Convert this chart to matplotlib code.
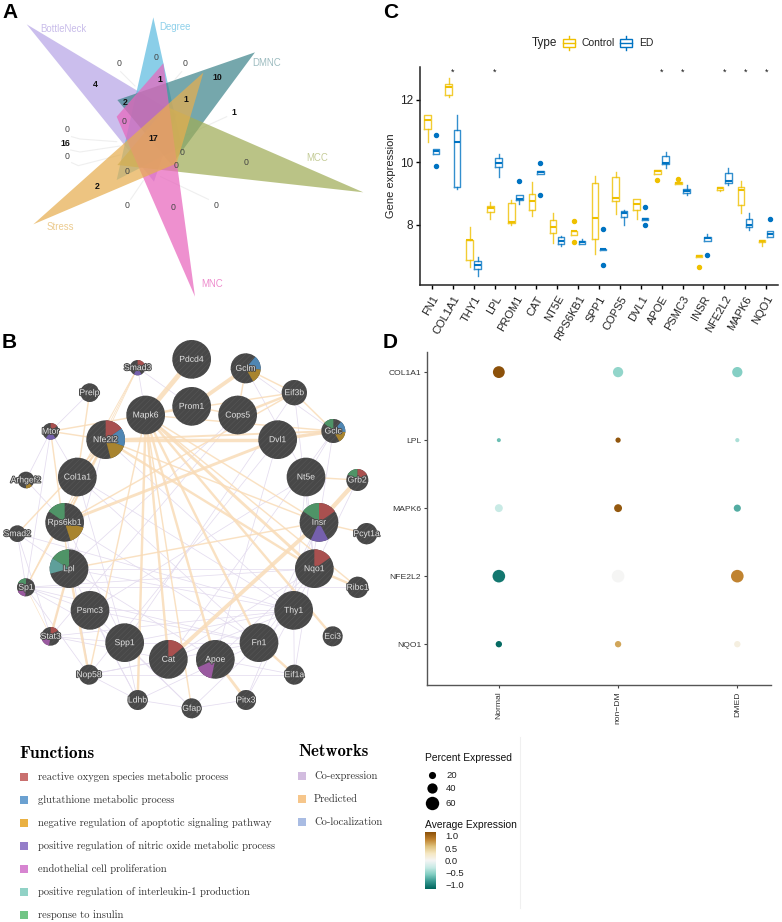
import matplotlib
matplotlib.use("Agg")
import numpy as np
import matplotlib.pyplot as plt
import matplotlib.patheffects as pe
from matplotlib.patches import Polygon, Circle, Wedge, Rectangle
from matplotlib.colors import LinearSegmentedColormap, Normalize

plt.rcParams['font.family'] = ['Liberation Sans', 'DejaVu Sans']
plt.rcParams['hatch.linewidth'] = 0.4

# ---- panel A, venn petals (traced at 3x from the figure), in drawing order
venn_names = ['BottleNeck', 'Degree', 'DMNC', 'MCC', 'MNC', 'Stress']
venn_polys = [
    [(80, 73), (530, 343), (462, 545)],
    [(460, 52), (350, 540), (545, 440)],
    [(765, 157), (352, 300), (515, 495)],
    [(1090, 577), (500, 320), (352, 495)],
    [(585, 890), (350, 350), (490, 190)],
    [(100, 673), (610, 218), (530, 490)],
]
venn_colors = ['#b7a6e6', '#5dbbe0', '#40858c', '#a0ad58', '#e866bd', '#e6ae50']
venn_label_colors = ['#c9bdea', '#8ed0ea', '#9dbcc0', '#c5cc98', '#ee8ccd', '#eccb8f']
venn_label_pos = [(190, 88), (525, 80), (800, 190), (952, 475), (637, 851), (180, 680)]
venn_counts = ['0', '0', '1', '0', '10', '4', '2', '1', '0', '1', '0', '16', '17', '0', '0', '0', '0', '0', '2', '0', '0', '0']
venn_count_x = [357, 468, 480, 555, 652, 287, 377, 558, 372, 701, 200, 196, 460, 200, 545, 527, 738, 382, 291, 382, 519, 647]
venn_count_y = [192, 172, 237, 192, 233, 253, 307, 300, 365, 338, 389, 430, 415, 470, 457, 498, 487, 514, 559, 615, 623, 615]
venn_leaders = [
    [(362, 215), (405, 258)], [(545, 215), (525, 238)], [(680, 350), (560, 405)],
    [(215, 410), (240, 417), (350, 425)], [(212, 450), (240, 456), (360, 438)],
    [(215, 488), (235, 497), (360, 465)], [(625, 598), (482, 530)], [(392, 598), (430, 542)],
]

# ---- panel B, network
node_names = ['Pdcd4', 'Gclm', 'Smad3', 'Prelp', 'Eif3b', 'Prom1', 'Cops5', 'Mapk6', 'Mtor', 'Nfe2l2',
              'Dvl1', 'Gclc', 'Col1a1', 'Nt5e', 'Arhgef2', 'Grb2', 'Rps6kb1', 'Insr', 'Smad2', 'Pcyt1a',
              'Lpl', 'Nqo1', 'Sp1', 'Ribc1', 'Psmc3', 'Thy1', 'Stat3', 'Eci3', 'Spp1', 'Fn1',
              'Cat', 'Apoe', 'Nop58', 'Eif1a', 'Ldhb', 'Pitx3', 'Gfap']
node_x = [575, 737, 413, 269, 883, 575, 713, 437, 152, 317, 833, 1000, 232, 918, 78, 1072, 194, 957, 52, 1100,
          207, 943, 78, 1073, 270, 881, 152, 998, 374, 777, 505, 646, 267, 883, 413, 738, 575]
node_y = [88, 115, 113, 188, 188, 229, 255, 255, 304, 329, 329, 303, 441, 441, 450, 450, 577, 577, 611, 611,
          716, 716, 772, 772, 841, 841, 919, 919, 938, 938, 988, 988, 1034, 1034, 1110, 1110, 1135]
node_r = [58, 45, 23, 28, 38, 58, 58, 58, 25, 58, 58, 36, 58, 58, 25, 33, 58, 58, 25, 32,
          58, 58, 27, 32, 58, 58, 28, 30, 58, 58, 58, 58, 30, 30, 30, 30, 30]

predicted_edges = [
    ('Pdcd4', 'Mapk6', 5), ('Gclm', 'Prom1', 4), ('Gclm', 'Cops5', 1.5), ('Eif3b', 'Cops5', 2.5), ('Eif3b', 'Mapk6', 1.5),
    ('Nfe2l2', 'Dvl1', 3.5), ('Dvl1', 'Gclc', 3.5), ('Nfe2l2', 'Gclc', 2), ('Rps6kb1', 'Dvl1', 3), ('Rps6kb1', 'Eif3b', 1.5),
    ('Lpl', 'Insr', 1.5), ('Mapk6', 'Nqo1', 3), ('Nfe2l2', 'Nqo1', 2.5), ('Nfe2l2', 'Insr', 1.5), ('Mapk6', 'Insr', 1.5),
    ('Mapk6', 'Ribc1', 1.5), ('Mapk6', 'Eci3', 2.5), ('Mapk6', 'Fn1', 2.5), ('Mapk6', 'Apoe', 2.5), ('Mapk6', 'Cat', 2.5),
    ('Mapk6', 'Gfap', 1.5), ('Mapk6', 'Ldhb', 2.5), ('Mapk6', 'Nop58', 1.5), ('Nfe2l2', 'Sp1', 1.5), ('Nfe2l2', 'Smad2', 1.5),
    ('Nfe2l2', 'Col1a1', 2.5), ('Mtor', 'Nfe2l2', 1.5), ('Mtor', 'Mapk6', 1.5), ('Mtor', 'Lpl', 1.5), ('Lpl', 'Nop58', 2.5),
    ('Prelp', 'Col1a1', 1.5), ('Smad3', 'Col1a1', 1), ('Smad3', 'Rps6kb1', 0.8), ('Insr', 'Grb2', 4.5), ('Cat', 'Insr', 4),
    ('Nt5e', 'Grb2', 1.5), ('Nqo1', 'Ribc1', 2.5), ('Insr', 'Pcyt1a', 1.5), ('Apoe', 'Pitx3', 3), ('Fn1', 'Eif1a', 2.5),
    ('Stat3', 'Lpl', 2.5), ('Gclm', 'Eif3b', 1.5), ('Gclc', 'Eif3b', 1.5), ('Gclc', 'Mapk6', 1.5), ('Rps6kb1', 'Nfe2l2', 2),
    ('Prom1', 'Cops5', 1.5), ('Mapk6', 'Prom1', 2), ('Sp1', 'Smad3', 0.8), ('Sp1', 'Stat3', 0.6),
]
coexp_edges = [
    ('Smad3', 'Mapk6'), ('Smad3', 'Prom1'), ('Prelp', 'Mtor'), ('Gclm', 'Nt5e'), ('Gclm', 'Gclc'), ('Eif3b', 'Nqo1'),
    ('Eif3b', 'Spp1'), ('Gclc', 'Insr'), ('Gclc', 'Nt5e'), ('Dvl1', 'Nop58'), ('Cops5', 'Stat3'), ('Cops5', 'Lpl'),
    ('Gclc', 'Cat'), ('Nt5e', 'Thy1'), ('Nt5e', 'Psmc3'), ('Grb2', 'Nqo1'), ('Mtor', 'Col1a1'), ('Mtor', 'Arhgef2'),
    ('Mtor', 'Sp1'), ('Arhgef2', 'Rps6kb1'), ('Smad2', 'Sp1'), ('Smad2', 'Thy1'), ('Smad2', 'Lpl'), ('Smad2', 'Stat3'),
    ('Rps6kb1', 'Spp1'), ('Rps6kb1', 'Fn1'), ('Rps6kb1', 'Nop58'), ('Col1a1', 'Spp1'), ('Col1a1', 'Fn1'), ('Col1a1', 'Thy1'),
    ('Lpl', 'Thy1'), ('Lpl', 'Nqo1'), ('Lpl', 'Apoe'), ('Lpl', 'Ldhb'), ('Sp1', 'Nqo1'), ('Sp1', 'Fn1'), ('Sp1', 'Psmc3'),
    ('Sp1', 'Ribc1'), ('Sp1', 'Spp1'), ('Sp1', 'Nop58'), ('Psmc3', 'Thy1'), ('Psmc3', 'Fn1'), ('Psmc3', 'Ldhb'), ('Psmc3', 'Gfap'),
    ('Stat3', 'Cat'), ('Stat3', 'Thy1'), ('Stat3', 'Spp1'), ('Spp1', 'Thy1'), ('Spp1', 'Fn1'), ('Spp1', 'Ldhb'), ('Spp1', 'Gfap'),
    ('Nop58', 'Eif1a'), ('Nop58', 'Fn1'), ('Nop58', 'Cat'), ('Nop58', 'Ldhb'), ('Ldhb', 'Gfap'), ('Ldhb', 'Fn1'), ('Gfap', 'Pitx3'),
    ('Gfap', 'Thy1'), ('Pitx3', 'Thy1'), ('Pitx3', 'Insr'), ('Cat', 'Nqo1'), ('Cat', 'Thy1'), ('Apoe', 'Nqo1'), ('Apoe', 'Dvl1'),
    ('Eif1a', 'Thy1'), ('Eif1a', 'Apoe'), ('Fn1', 'Nqo1'), ('Fn1', 'Insr'), ('Thy1', 'Nqo1'), ('Nqo1', 'Nt5e'), ('Insr', 'Eif1a'),
    ('Dvl1', 'Gclc'), ('Nfe2l2', 'Thy1'), ('Nfe2l2', 'Stat3'),
]

RED, BLUE, GOLD, PURPLE, PINK, TEAL, GREEN = '#a9504f', '#4f86b3', '#a8842f', '#7560ad', '#9a5aa0', '#5f9f9a', '#4f9467'
pie_slices = [
    ('Nfe2l2', RED, 35, 90), ('Nfe2l2', BLUE, -20, 35), ('Nfe2l2', GOLD, -75, -20),
    ('Insr', RED, 35, 90), ('Insr', GREEN, 90, 145), ('Insr', PURPLE, -115, -62),
    ('Rps6kb1', GREEN, 90, 145), ('Rps6kb1', GOLD, -72, -15),
    ('Lpl', GREEN, 90, 148), ('Lpl', TEAL, 148, 195),
    ('Nqo1', RED, 35, 90), ('Cat', RED, 40, 90), ('Apoe', PINK, 205, 258),
    ('Gclm', BLUE, -5, 50), ('Gclm', GOLD, -60, -5),
    ('Gclc', GREEN, 90, 140), ('Gclc', BLUE, -5, 50), ('Gclc', GOLD, -60, -5),
    ('Grb2', RED, 30, 90), ('Grb2', GREEN, 90, 150),
    ('Mtor', RED, 40, 90), ('Mtor', PURPLE, 235, 305),
    ('Smad3', RED, 30, 90), ('Smad3', PURPLE, 240, 300),
    ('Sp1', GREEN, 90, 150), ('Sp1', PINK, 205, 265),
    ('Stat3', RED, 40, 90), ('Stat3', PINK, 200, 260), ('Arhgef2', GOLD, -90, -45),
]

# legends under B
function_names = ['reactive oxygen species metabolic process', 'glutathione metabolic process',
                  'negative regulation of apoptotic signaling pathway',
                  'positive regulation of nitric oxide metabolic process', 'endothelial cell proliferation',
                  'positive regulation of interleukin-1 production', 'response to insulin']
function_colors = ['#c4605f', '#5b97cc', '#e8a92e', '#8a70c4', '#d378cc', '#85cdc0', '#62bf78']
network_names = ['Co-expression', 'Predicted', 'Co-localization']
network_colors = ['#cdb5dc', '#f6c07f', '#a0b5e0']

# ---- panel C
genes = ['FN1', 'COL1A1', 'THY1', 'LPL', 'PROM1', 'CAT', 'NT5E', 'RPS6KB1', 'SPP1', 'COPS5', 'DVL1',
         'APOE', 'PSMC3', 'INSR', 'NFE2L2', 'MAPK6', 'NQO1']
ctrl_low = [10.65, 12.08, 6.66, 8.18, 7.99, 8.28, 7.40, 7.67, 7.05, 8.34, 8.19, 9.63, 9.31, 6.98, 9.09, 8.36, 7.32]
ctrl_q1 = [11.05, 12.14, 6.86, 8.40, 8.06, 8.47, 7.74, 7.67, 7.53, 8.74, 8.46, 9.63, 9.31, 6.98, 9.11, 8.62, 7.43]
ctrl_med = [11.33, 12.40, 7.51, 8.52, 8.10, 8.76, 7.94, 7.80, 8.21, 8.84, 8.66, 9.71, 9.33, 7.00, 9.16, 9.10, 7.47]
ctrl_q3 = [11.49, 12.51, 7.51, 8.60, 8.70, 8.99, 8.14, 7.81, 9.34, 9.53, 8.82, 9.74, 9.35, 7.02, 9.21, 9.21, 7.51]
ctrl_high = [11.50, 12.70, 7.91, 8.72, 8.79, 9.37, 8.36, 7.81, 9.55, 9.68, 8.82, 9.74, 9.35, 7.02, 9.21, 9.39, 7.51]
ctrl_fliers = [[], [], [], [], [], [], [], [8.12, 7.46], [], [], [], [9.44], [9.47], [6.66], [], [], []]
ed_low = [10.26, 9.13, 6.37, 9.51, 8.65, 9.61, 7.33, 7.37, 7.19, 8.00, 8.16, 9.80, 8.95, 7.47, 9.26, 7.82, 7.59]
ed_q1 = [10.26, 9.21, 6.57, 9.83, 8.79, 9.61, 7.37, 7.37, 7.19, 8.23, 8.16, 9.94, 9.01, 7.48, 9.32, 7.94, 7.59]
ed_med = [10.36, 10.64, 6.70, 9.98, 8.82, 9.68, 7.49, 7.44, 7.21, 8.36, 8.18, 9.98, 9.09, 7.56, 9.38, 7.99, 7.70]
ed_q3 = [10.43, 11.02, 6.83, 10.14, 8.96, 9.73, 7.62, 7.49, 7.23, 8.45, 8.20, 10.19, 9.14, 7.62, 9.64, 8.18, 7.79]
ed_high = [10.43, 11.52, 6.95, 10.26, 8.96, 9.73, 7.64, 7.53, 7.23, 8.47, 8.20, 10.31, 9.26, 7.70, 9.80, 8.36, 7.81]
ed_fliers = [[10.88, 9.87], [], [], [], [9.41], [9.97, 8.95], [], [], [7.87, 6.72], [], [8.55, 8.00], [], [], [7.03], [], [], [8.18]]
signif_genes = ['COL1A1', 'LPL', 'APOE', 'PSMC3', 'NFE2L2', 'MAPK6', 'NQO1']

# ---- panel D
dot_genes = ['COL1A1', 'LPL', 'MAPK6', 'NFE2L2', 'NQO1']
dot_groups = ['Normal', 'non\u2212DM', 'DMED']
avg_expr = np.array([[1.15, -0.5, -0.55],
                     [-0.65, 1.12, -0.4],
                     [-0.28, 1.1, -0.75],
                     [-1.05, 0.0, 0.85],
                     [-1.12, 0.7, 0.12]])
pct_expr = np.array([[50, 40, 40],
                     [0, 8, 1],
                     [25, 25, 20],
                     [55, 55, 55],
                     [15, 15, 15]])
legend_pct = [20, 40, 60]
legend_avg = [1.0, 0.5, 0.0, -0.5, -1.0]

W, H = 782, 922
fig = plt.figure(figsize=(W / 100, H / 100), dpi=100)

# whole figure axes in pixel coords for A, B and the legends
bg = fig.add_axes([0, 0, 1, 1])
bg.set_xlim(0, W)
bg.set_ylim(H, 0)
bg.axis('off')

def axes_px(left, top, right, bottom):
    a = fig.add_axes([left / W, 1 - bottom / H, (right - left) / W, (bottom - top) / H])
    a.patch.set_visible(False)
    return a

for t, x, y in [('A', 2, 12), ('C', 383, 12), ('B', 2, 342), ('D', 383, 342)]:
    bg.text(x, y, t, fontsize=15, fontweight='bold', va='center', ha='left')

# A
for line in venn_leaders:
    p = np.array(line) / 3
    bg.plot(p[:, 0], p[:, 1], color='#efefef', lw=0.8, zorder=1)
for poly, c in zip(venn_polys, venn_colors):
    bg.add_patch(Polygon(np.array(poly) / 3, closed=True, fc=c, ec='none', alpha=0.72, zorder=2))
for name, p, c in zip(venn_names, venn_label_pos, venn_label_colors):
    bg.text(p[0] / 3, p[1] / 3, name, color=c, fontsize=6.9, ha='center', va='center', zorder=4)
for s, x, y in zip(venn_counts, venn_count_x, venn_count_y):
    bold = s != '0'
    bg.text(x / 3, y / 3, s, fontsize=6.3, ha='center', va='center', zorder=4,
            fontweight='bold' if bold else 'normal', color='#111111' if bold else '#444444')

# B
pos = {n: (x / 3, 330 + y / 3, r / 3) for n, x, y, r in zip(node_names, node_x, node_y, node_r)}
for a, b in coexp_edges:
    bg.plot([pos[a][0], pos[b][0]], [pos[a][1], pos[b][1]], color='#e4dcef', lw=0.55, zorder=1)
for a, b, w in predicted_edges:
    bg.plot([pos[a][0], pos[b][0]], [pos[a][1], pos[b][1]], color='#f9dcb8', lw=w * 0.7, zorder=2,
            alpha=0.85, solid_capstyle='butt')
for n in node_names:
    x, y, r = pos[n]
    bg.add_patch(Circle((x, y), r, fc='#484848', ec='#575757', lw=0, hatch='//////', zorder=3))
for n, c, t1, t2 in pie_slices:
    x, y, r = pos[n]
    # y axis is flipped here, so the angles are mirrored
    bg.add_patch(Wedge((x, y), r, -t2, -t1, fc=c, ec='none', zorder=4))
for n in node_names:
    x, y, r = pos[n]
    bg.text(x, y, n, color='#e4e4e4', fontsize=6.2, ha='center', va='center', zorder=5,
            path_effects=[pe.withStroke(linewidth=1.4, foreground='#4a4a4a')])

# legends under B
serif = ['cmr10', 'Liberation Serif']
bg.text(19, 753, 'Functions', family=['cmb10', 'Liberation Serif'], fontsize=12.5, va='center')
for i, (name, c) in enumerate(zip(function_names, function_colors)):
    y = 776.5 + i * 23
    bg.add_patch(Rectangle((19.5, y - 4), 8, 8, fc=c, ec='none', alpha=0.9))
    bg.text(38, y, name, family=serif, fontsize=7.6, va='center', color='#333333')
bg.text(298, 751, 'Networks', family=['cmb10', 'Liberation Serif'], fontsize=12, va='center')
for i, (name, c) in enumerate(zip(network_names, network_colors)):
    y = 776 + i * 23
    bg.add_patch(Rectangle((297.5, y - 4), 8, 8, fc=c, ec='none', alpha=0.9))
    bg.text(314, y, name, family=serif, fontsize=7.6, va='center', color='#333333')

def dot_diam(p):
    return (12 + 0.47 * p) / 3 * 0.72

bg.text(425, 758, 'Percent Expressed', fontsize=7.4, va='center', color='#111111')
for p, y in zip(legend_pct, [775, 788, 803]):
    bg.scatter([432], [y], s=dot_diam(p) ** 2, color='black', lw=0)
    bg.text(446, y, str(p), fontsize=6.8, va='center', color='#222222')

norm = Normalize(-1.15, 1.15)
cmap = LinearSegmentedColormap.from_list('brbg', ['#01665e', '#35978f', '#80cdc1', '#c7eae5', '#f5f5f5',
                                                  '#f6e8c3', '#dfc27d', '#bf812d', '#8c510a'])
bg.text(425, 825, 'Average Expression', fontsize=7.4, va='center', color='#111111')
grad = np.linspace(1.15, -1.15, 100).reshape(-1, 1)
bg.imshow(grad, cmap=cmap, norm=norm, extent=(425, 436, 889, 832), aspect='auto', zorder=2)
bg.set_xlim(0, W)
bg.set_ylim(H, 0)
for v, y in zip(legend_avg, [836.5, 849, 861, 873, 885.5]):
    bg.text(445, y, str(v).replace('-', '\u2212'), fontsize=6.8, va='center', color='#222222')
bg.plot([520, 520], [737, 908], color='#f0f0f0', lw=0.8)

# C
ax = axes_px(420, 67, 778, 285)
ctrl_c, ed_c = '#efc000', '#0073c2'
def boxes(low, q1, med, q3, high, fliers, off, col):
    stats = [dict(whislo=a, q1=b, med=c, q3=d, whishi=e, fliers=f)
             for a, b, c, d, e, f in zip(low, q1, med, q3, high, fliers)]
    ax.bxp(stats, positions=np.arange(1, 18) + off, widths=0.31, showcaps=False, manage_ticks=False,
           boxprops=dict(color=col, lw=1.0, alpha=0.8), whiskerprops=dict(color=col, lw=1.0, alpha=0.8),
           medianprops=dict(color=col, lw=1.5),
           flierprops=dict(marker='o', mfc=col, mec=col, ms=2.9))
boxes(ctrl_low, ctrl_q1, ctrl_med, ctrl_q3, ctrl_high, ctrl_fliers, -0.2, ctrl_c)
boxes(ed_low, ed_q1, ed_med, ed_q3, ed_high, ed_fliers, 0.19, ed_c)
for g in signif_genes:
    ax.text(genes.index(g) + 1, 12.87, '*', fontsize=6.5, ha='center', va='center', color='#111111')
ax.set_xlim(0.43, 17.57)
ax.set_ylim(6.07, 13.04)
ax.set_xticks(range(1, 18))
ax.set_xticklabels(genes, rotation=60, ha='right', rotation_mode='anchor', fontsize=8, color='#222222')
ax.set_yticks([8, 10, 12])
ax.tick_params(axis='y', labelsize=8.5, labelcolor='#222222', length=3, width=1, pad=2)
ax.tick_params(axis='x', length=3, width=1)
ax.set_ylabel('Gene expression', fontsize=8, color='#222222', labelpad=3)
for s in ['top', 'right']:
    ax.spines[s].set_visible(False)
for s in ['left', 'bottom']:
    ax.spines[s].set_linewidth(1.1)
    ax.spines[s].set_color('#222222')

# C legend, keys drawn by hand so it sits where the original one does
bg.text(532, 43, 'Type', fontsize=8.5, ha='left', va='center', color='#222222')
for x0, c, name in [(563, ctrl_c, 'Control'), (620, ed_c, 'ED')]:
    bg.add_patch(Rectangle((x0, 39), 12, 8, fc='white', ec=c, lw=1.0, zorder=3))
    bg.plot([x0, x0 + 12], [43, 43], color=c, lw=1.0, zorder=4)
    bg.plot([x0 + 6, x0 + 6], [36, 50], color=c, lw=1.0, zorder=2)
    bg.text(x0 + 19, 43, name, fontsize=7.5, va='center', color='#222222')

# D
ax2 = axes_px(427.3, 351.7, 770.7, 685)
xx, yy = np.meshgrid([1, 2, 3], [5, 4, 3, 2, 1])
ax2.scatter(xx.ravel(), yy.ravel(), c=avg_expr.ravel(), s=dot_diam(pct_expr.ravel()) ** 2, cmap=cmap, norm=norm, lw=0)
ax2.set_xlim(0.4, 3.28)
ax2.set_ylim(0.4, 5.3)
ax2.set_xticks([1, 2, 3])
ax2.set_xticklabels(dot_groups, rotation=90, fontsize=6.1, color='#333333')
ax2.set_yticks([5, 4, 3, 2, 1])
ax2.set_yticklabels(dot_genes, fontsize=6.1, color='#333333')
ax2.tick_params(length=2.5, width=0.8, color='#444444', pad=2)
for s in ['top', 'right']:
    ax2.spines[s].set_visible(False)
for s in ['left', 'bottom']:
    ax2.spines[s].set_color('#555555')
    ax2.spines[s].set_linewidth(1.0)

fig.savefig('out.png', dpi=100)
